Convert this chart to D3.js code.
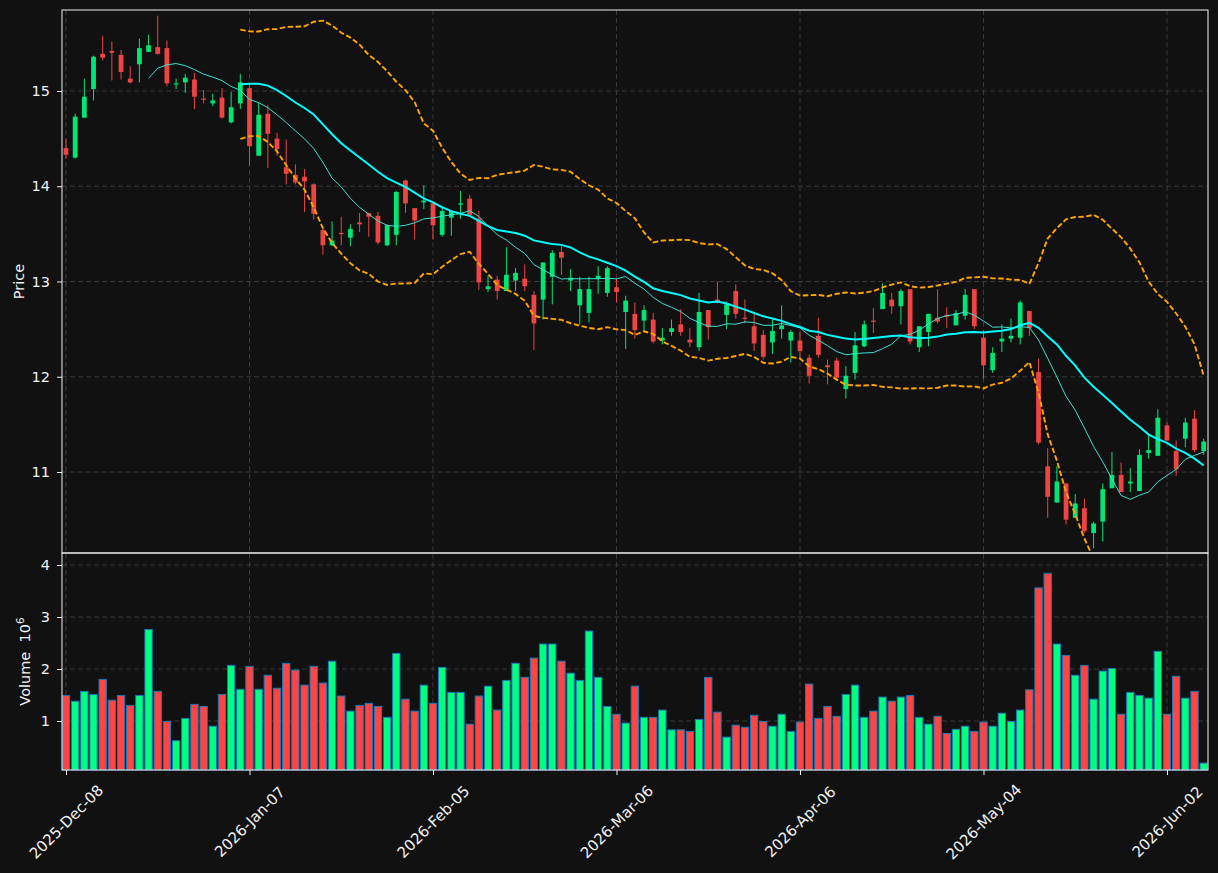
<!DOCTYPE html>
<html>
<head>
<meta charset="utf-8">
<script src="https://cdn.jsdelivr.net/npm/d3@7/dist/d3.min.js"></script>
<style>
body { margin: 0; background: #111111; }
svg text { font-family: "DejaVu Sans", sans-serif; }
</style>
</head>
<body>
<div id="chart"></div>
<script>
// OHLC, one entry per trading day
var opens = [14.40,14.30,14.72,15.02,15.39,15.42,15.38,15.13,15.28,15.41,
  15.46,15.45,15.07,15.09,15.12,14.92,14.87,14.93,14.67,14.87,
  15.03,14.32,14.76,14.50,14.20,14.12,14.10,14.02,13.54,13.38,
  13.51,13.46,13.62,13.72,13.69,13.38,13.49,14.06,13.77,13.83,
  13.82,13.49,13.67,13.81,13.87,13.66,12.92,13.02,12.90,13.01,
  13.03,12.86,12.81,13.05,13.31,13.01,12.75,12.67,13.03,12.88,
  12.94,12.68,12.66,12.59,12.60,12.38,12.47,12.55,12.39,12.31,
  12.70,12.81,12.65,12.90,12.62,12.53,12.44,12.36,12.50,12.38,
  12.38,12.20,12.43,12.12,12.17,11.87,12.04,12.32,12.59,12.71,
  12.81,12.74,12.92,12.31,12.47,12.62,12.65,12.54,12.64,12.92,
  12.41,12.07,12.37,12.40,12.41,12.69,12.05,11.06,10.68,10.88,
  10.52,10.62,10.36,10.48,10.83,10.97,10.88,10.80,11.20,11.17,
  11.49,11.22,11.35,11.56,11.22];
var highs = [14.50,14.76,15.13,15.37,15.58,15.52,15.43,15.26,15.55,15.59,
  15.79,15.53,15.13,15.18,15.19,15.01,14.97,15.03,14.99,15.18,
  15.08,14.88,14.85,14.56,14.49,14.23,14.18,14.03,13.55,13.63,
  13.68,13.60,13.72,13.72,13.73,13.60,13.95,14.07,13.77,14.01,
  13.84,13.78,13.74,13.95,13.91,13.74,13.06,13.06,13.36,13.14,
  13.18,12.90,13.20,13.33,13.37,13.13,13.05,13.05,13.16,13.16,
  13.03,12.85,12.78,12.75,12.67,12.51,12.60,12.71,12.51,12.88,
  12.70,13.00,12.79,12.97,12.81,12.67,12.49,12.60,12.75,12.49,
  12.47,12.23,12.62,12.18,12.20,12.11,12.47,12.59,12.72,12.98,
  12.88,12.92,12.92,12.53,12.66,12.92,12.73,12.70,12.92,12.92,
  12.49,12.31,12.55,12.61,12.80,12.69,12.19,11.25,11.06,10.88,
  10.77,10.72,10.48,10.88,11.21,11.10,11.04,11.24,11.39,11.66,
  11.52,11.33,11.57,11.65,11.35];
var lows = [14.29,14.29,14.72,14.90,15.32,15.11,15.12,15.08,15.09,15.41,
  15.38,15.05,15.02,14.98,14.81,14.87,14.84,14.71,14.66,14.81,
  14.22,14.32,14.19,14.32,14.02,14.02,13.73,13.65,13.28,13.37,
  13.38,13.37,13.52,13.47,13.39,13.37,13.38,13.72,13.44,13.76,
  13.44,13.47,13.48,13.66,13.70,12.91,12.89,12.81,12.90,12.90,
  12.90,12.28,12.60,12.76,13.07,12.90,12.55,12.57,12.87,12.84,
  12.78,12.29,12.40,12.48,12.35,12.34,12.43,12.43,12.31,12.27,
  12.39,12.77,12.50,12.61,12.56,12.27,12.18,12.24,12.40,12.15,
  12.20,11.93,12.20,11.92,11.96,11.77,11.97,12.31,12.46,12.71,
  12.66,12.55,12.34,12.26,12.32,12.56,12.51,12.54,12.60,12.50,
  11.98,12.04,12.26,12.36,12.34,12.43,11.29,10.52,10.68,10.45,
  10.52,10.36,10.20,10.27,10.83,10.79,10.79,10.80,11.14,11.17,
  11.33,10.96,11.26,11.21,11.18];
var closes = [14.33,14.73,14.94,15.36,15.35,15.40,15.20,15.09,15.45,15.48,
  15.39,15.08,15.08,15.14,14.94,14.91,14.90,14.72,14.83,15.09,
  14.42,14.75,14.55,14.39,14.13,14.04,14.05,13.71,13.38,13.43,
  13.50,13.55,13.60,13.68,13.41,13.59,13.94,13.82,13.64,13.85,
  13.59,13.74,13.74,13.82,13.70,12.99,12.95,12.90,13.07,13.09,
  12.95,12.56,13.20,13.30,13.25,13.04,12.92,12.92,13.06,13.14,
  12.89,12.80,12.49,12.70,12.37,12.41,12.51,12.47,12.36,12.68,
  12.52,12.78,12.76,12.66,12.61,12.35,12.21,12.48,12.54,12.47,
  12.27,12.01,12.23,12.10,11.99,12.01,12.33,12.55,12.58,12.88,
  12.74,12.90,12.37,12.53,12.66,12.58,12.63,12.67,12.86,12.53,
  12.12,12.25,12.40,12.43,12.78,12.51,11.31,10.74,10.90,10.50,
  10.67,10.38,10.46,10.82,10.97,10.79,10.90,11.18,11.23,11.57,
  11.33,11.03,11.52,11.23,11.32];
// volume in millions
var volumes = [1.49,1.38,1.57,1.51,1.80,1.40,1.49,1.30,1.49,2.76,
  1.57,0.99,0.62,1.05,1.32,1.28,0.90,1.51,2.07,1.61,
  2.05,1.61,1.88,1.63,2.11,1.98,1.69,2.05,1.73,2.15,
  1.48,1.19,1.30,1.34,1.28,1.07,2.30,1.42,1.19,1.69,
  1.34,2.03,1.55,1.55,0.94,1.48,1.67,1.21,1.78,2.11,
  1.84,2.21,2.48,2.48,2.15,1.92,1.78,2.73,1.84,1.28,
  1.13,0.96,1.67,1.07,1.07,1.21,0.83,0.83,0.80,1.03,
  1.84,1.17,0.69,0.92,0.88,1.11,0.99,0.90,1.13,0.80,
  0.98,1.71,1.05,1.28,1.09,1.51,1.69,1.07,1.19,1.46,
  1.38,1.46,1.49,1.07,0.94,1.09,0.76,0.84,0.90,0.80,
  0.98,0.90,1.15,0.99,1.21,1.60,3.56,3.84,2.48,2.26,
  1.88,2.07,1.42,1.96,2.01,1.13,1.55,1.49,1.44,2.34,
  1.13,1.86,1.44,1.57,0.19];
var tickIdx = [0, 20, 40, 60, 80, 100, 120];
var tickLabels = ["2025-Dec-08", "2026-Jan-07", "2026-Feb-05", "2026-Mar-06", "2026-Apr-06", "2026-May-04", "2026-Jun-02"];
var priceTicks = [11, 12, 13, 14, 15];
var volTicks = [1, 2, 3, 4];

var upC = "#00e676", downC = "#ef4444";
var volUp = "#00ff80", volDown = "#ff4444";
var axisC = "#f2f2f2", gridC = "#3a3a3a";

var W = 1218, H = 873;
var plotL = 62, plotR = 1208, plotT = 10, plotMid = 553, plotB = 770;

var svg = d3.select("#chart").append("svg")
	.attr("width", W)
	.attr("height", H)
	.style("background", "#111111");

var n = closes.length;
var x = d3.scaleLinear().domain([-0.436, 124.47]).range([plotL, plotR]);
var step = x(1) - x(0);
var yP = d3.scaleLinear().domain([10.15, 15.85]).range([plotMid, plotT]);
var yV = d3.scaleLinear().domain([0.0577, 4.231]).range([plotB, plotMid]);

svg.append("clipPath").attr("id", "clipP")
	.append("rect").attr("x", plotL).attr("y", plotT).attr("width", plotR - plotL).attr("height", plotMid - plotT);

// grid
var grid = svg.append("g")
	.attr("stroke", gridC)
	.attr("stroke-width", 1)
	.attr("stroke-dasharray", "5,3");
priceTicks.forEach(function (t) {
	grid.append("line").attr("x1", plotL).attr("x2", plotR).attr("y1", yP(t)).attr("y2", yP(t));
});
volTicks.forEach(function (t) {
	grid.append("line").attr("x1", plotL).attr("x2", plotR).attr("y1", yV(t)).attr("y2", yV(t));
});
tickIdx.forEach(function (t) {
	grid.append("line").attr("x1", x(t)).attr("x2", x(t)).attr("y1", plotT).attr("y2", plotB);
});

// candles
var idx = d3.range(n);
var candles = svg.append("g");
candles.selectAll("line")
	.data(idx)
	.enter().append("line")
	.attr("x1", function (i) { return x(i); })
	.attr("x2", function (i) { return x(i); })
	.attr("y1", function (i) { return yP(highs[i]); })
	.attr("y2", function (i) { return yP(lows[i]); })
	.attr("stroke", function (i) { return closes[i] >= opens[i] ? upC : downC; })
	.attr("stroke-width", 1);
candles.selectAll("rect")
	.data(idx)
	.enter().append("rect")
	.attr("x", function (i) { return x(i) - step * 0.26; })
	.attr("width", step * 0.52)
	.attr("y", function (i) { return yP(Math.max(opens[i], closes[i])); })
	.attr("height", function (i) { return Math.max(1.2, Math.abs(yP(opens[i]) - yP(closes[i]))); })
	.attr("fill", function (i) { return closes[i] >= opens[i] ? upC : downC; });

// moving averages and bands from the closes
function rolling(win, fn) {
	return idx.map(function (i) {
		if (i < win - 1) return null;
		return fn(closes.slice(i - win + 1, i + 1));
	});
}
var ma10 = rolling(10, d3.mean);
var ma20 = rolling(20, d3.mean);
var sd20 = rolling(20, function (a) {
	var m = d3.mean(a);
	return Math.sqrt(d3.mean(a, function (v) { return (v - m) * (v - m); }));
});
var upper = idx.map(function (i) { return ma20[i] == null ? null : ma20[i] + 2 * sd20[i]; });
var lower = idx.map(function (i) { return ma20[i] == null ? null : ma20[i] - 2 * sd20[i]; });

var line = d3.line()
	.defined(function (d) { return d[1] != null; })
	.x(function (d) { return x(d[0]); })
	.y(function (d) { return yP(d[1]); });
function pairs(arr) { return arr.map(function (v, i) { return [i, v]; }); }

var lines = svg.append("g").attr("clip-path", "url(#clipP)");
lines.append("path").attr("d", line(pairs(upper)))
	.attr("fill", "none").attr("stroke", "#ffa500").attr("stroke-width", 1.9).attr("stroke-dasharray", "5.5,2.5");
lines.append("path").attr("d", line(pairs(lower)))
	.attr("fill", "none").attr("stroke", "#ffa500").attr("stroke-width", 1.9).attr("stroke-dasharray", "5.5,2.5");
lines.append("path").attr("d", line(pairs(ma10)))
	.attr("fill", "none").attr("stroke", "#40e0d0").attr("stroke-width", 1);
lines.append("path").attr("d", line(pairs(ma20)))
	.attr("fill", "none").attr("stroke", "#00ffff").attr("stroke-width", 2);

// volume
svg.append("g").selectAll("rect")
	.data(idx)
	.enter().append("rect")
	.attr("x", function (i) { return x(i) - step * 0.4; })
	.attr("width", step * 0.8)
	.attr("y", function (i) { return yV(volumes[i]); })
	.attr("height", function (i) { return plotB - yV(volumes[i]); })
	.attr("fill", function (i) { return closes[i] >= opens[i] ? volUp : volDown; })
	.attr("stroke", "#1f77b4")
	.attr("stroke-width", 1);

// frames
svg.append("rect").attr("x", plotL).attr("y", plotT).attr("width", plotR - plotL).attr("height", plotMid - plotT)
	.attr("fill", "none").attr("stroke", axisC).attr("stroke-width", 1);
svg.append("rect").attr("x", plotL).attr("y", plotMid).attr("width", plotR - plotL).attr("height", plotB - plotMid)
	.attr("fill", "none").attr("stroke", axisC).attr("stroke-width", 1);

function styleAxis(g) {
	g.select(".domain").remove();
	g.selectAll(".tick line").attr("stroke", axisC);
	g.selectAll(".tick text").attr("fill", axisC).style("font-size", "14.5px");
}

svg.append("g")
	.attr("transform", "translate(" + plotL + ",0)")
	.call(d3.axisLeft(yP).tickValues(priceTicks).tickFormat(d3.format("d")).tickSize(5).tickPadding(7))
	.call(styleAxis);
svg.append("g")
	.attr("transform", "translate(" + plotL + ",0)")
	.call(d3.axisLeft(yV).tickValues(volTicks).tickFormat(d3.format("d")).tickSize(5).tickPadding(7))
	.call(styleAxis);

var xAxis = svg.append("g")
	.attr("transform", "translate(0," + plotB + ")")
	.call(d3.axisBottom(x).tickValues(tickIdx).tickFormat(function (d, i) { return tickLabels[i]; }).tickSize(5))
	.call(styleAxis);
xAxis.selectAll(".tick text")
	.attr("y", 0)
	.attr("dy", null)
	.attr("dominant-baseline", "central")
	.attr("text-anchor", "middle")
	.style("font-size", "15px")
	.attr("transform", "translate(0,52) rotate(-45)");

// axis labels
svg.append("text")
	.attr("transform", "translate(19," + (plotT + plotMid) / 2 + ") rotate(-90)")
	.attr("text-anchor", "middle")
	.attr("dominant-baseline", "central")
	.attr("fill", axisC)
	.style("font-size", "14.5px")
	.text("Price");
var vl = svg.append("text")
	.attr("transform", "translate(25," + (plotMid + plotB) / 2 + ") rotate(-90)")
	.attr("text-anchor", "middle")
	.attr("dominant-baseline", "central")
	.attr("fill", axisC)
	.style("font-size", "14.5px")
	.attr("xml:space", "preserve");
vl.append("tspan").text("Volume\u00a0\u00a010");
vl.append("tspan").attr("dy", "-0.5em").style("font-size", "10.5px").text("6");
</script>
</body>
</html>
